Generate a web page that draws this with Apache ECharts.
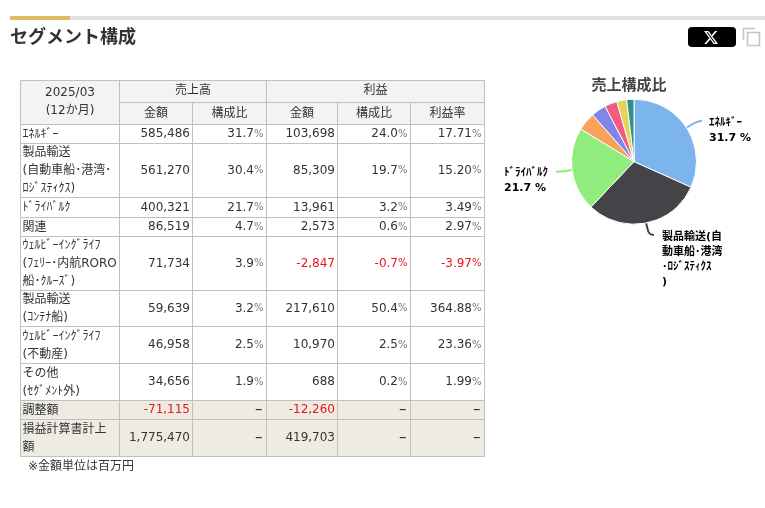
<!DOCTYPE html>
<html><head><meta charset="utf-8">
<style>html,body{margin:0;padding:0;background:#fff}#c{width:765px;height:508px}</style>
<script src="https://cdn.jsdelivr.net/npm/echarts@6/dist/echarts.min.js"></script>
</head><body><div id="c"></div>
<script>
const FONT = '"DejaVu Sans","Noto Sans CJK JP",sans-serif';
const categories = ['ｴﾈﾙｷﾞｰ','製品輸送\n(自動車船･港湾･\nﾛｼﾞｽﾃｨｸｽ)','ﾄﾞﾗｲﾊﾞﾙｸ','関連','ｳｪﾙﾋﾞｰｲﾝｸﾞﾗｲﾌ\n(ﾌｪﾘｰ･内航RORO\n船･ｸﾙｰｽﾞ)','製品輸送\n(ｺﾝﾃﾅ船)','ｳｪﾙﾋﾞｰｲﾝｸﾞﾗｲﾌ\n(不動産)','その他\n(ｾｸﾞﾒﾝﾄ外)','調整額','損益計算書計上\n額'];
const salesValues = [585486,561270,400321,86519,71734,59639,46958,34656,-71115,1775470];
const salesShare = [31.7,30.4,21.7,4.7,3.9,3.2,2.5,1.9,null,null];
const profitValues = [103698,85309,13961,2573,-2847,217610,10970,688,-12260,419703];
const profitShare = [24.0,19.7,3.2,0.6,-0.7,50.4,2.5,0.2,null,null];
const profitRate = [17.71,15.20,3.49,2.97,-3.97,364.88,23.36,1.99,null,null];
const pieNames = ['ｴﾈﾙｷﾞｰ','製品輸送(自動車船･港湾･ﾛｼﾞｽﾃｨｸｽ)','ﾄﾞﾗｲﾊﾞﾙｸ','関連','ｳｪﾙﾋﾞｰｲﾝｸﾞﾗｲﾌ(ﾌｪﾘｰ･内航RORO船･ｸﾙｰｽﾞ)','製品輸送(ｺﾝﾃﾅ船)','ｳｪﾙﾋﾞｰｲﾝｸﾞﾗｲﾌ(不動産)','その他(ｾｸﾞﾒﾝﾄ外)'];
const pieValues = salesValues.slice(0,8);
const pieColors = ['#7cb5ec','#434348','#90ed7d','#f7a35c','#8085e9','#f15c80','#e4d354','#2b908f'];
const pieLabels = {0:'ｴﾈﾙｷﾞｰ\n31.7 %',1:'製品輸送(自\n動車船･港湾\n･ﾛｼﾞｽﾃｨｸｽ\n)',2:'ﾄﾞﾗｲﾊﾞﾙｸ\n21.7 %'};
const labelSpots = {0:[709,116],1:[662,230],2:[504,166]};
const leaderBends = {0:[[695,122],[702,120.7]],1:[[649,235],[654,235]],2:[[565,171.7],[556,171.7]]};

const colX = [20.5,119.5,192.5,266.5,337.5,410.5,484.5];
const rowY = [124.5,143.5,197.5,217.5,236.5,290.5,326.5,363.5,400.5,419.5,456.5];
const TEXT='#333', LINE='#c0c0c0', RED='#e8141e';
const g = [];
const rect=(x,y,w,h,fill)=>g.push({type:'rect',silent:true,shape:{x,y,width:w,height:h},style:{fill}});
const line=(x1,y1,x2,y2)=>g.push({type:'line',silent:true,shape:{x1,y1,x2,y2},style:{stroke:LINE,lineWidth:1}});
const txt=(x,y,text,o={})=>g.push({type:'text',silent:true,x,y,style:Object.assign({text,fill:TEXT,font:'12px '+FONT,align:'center',verticalAlign:'middle'},o)});

// page heading
rect(10,16,755,4,'#e2e2e2'); rect(10,16,60,4,'#e0bc5c');
txt(10,38,'セグメント構成',{font:'bold 18px '+FONT,align:'left',fill:'#333'});
g.push({type:'rect',silent:true,shape:{x:688,y:27,width:48,height:20,r:4},style:{fill:'#000'}});
// X glyph
const xIcon=(pts,fill)=>g.push({type:'polygon',silent:true,shape:{points:pts.map(p=>[704+(p[0]-1.25)*14/21.5,31+(p[1]-2.25)*13/19.5])},style:{fill}});
xIcon([[1.254,2.25],[8.08,2.25],[22.827,21.75],[16.17,21.75]],'#fff');
xIcon([[5.117,4.126],[7.084,4.126],[18.916,19.77],[17.083,19.77]],'#000');
xIcon([[18.244,2.25],[21.552,2.25],[14.325,10.51],[12.793,8.481]],'#fff');
xIcon([[4.99,21.75],[1.68,21.75],[9.41,12.915],[10.956,14.933]],'#fff');
g.push({type:'rect',silent:true,shape:{x:747.5,y:32.5,width:12,height:13},style:{fill:'none',stroke:'#c4c4c4',lineWidth:1.6}});
g.push({type:'polyline',silent:true,shape:{points:[[743.5,40],[743.5,28.5],[755,28.5]]},style:{fill:'none',stroke:'#c4c4c4',lineWidth:1.6}});

// table backgrounds
rect(colX[0],80.5,colX[6]-colX[0],44,'#f3f3f3');
rect(colX[0],rowY[8],colX[6]-colX[0],rowY[10]-rowY[8],'#eeece2');

// table grid
line(colX[0],80.5,colX[6],80.5);
line(colX[1],102.5,colX[6],102.5);
rowY.forEach(y=>line(colX[0],y,colX[6],y));
colX.forEach((x,i)=>{const top=(i===2||i===4||i===5)?102.5:80.5; line(x,top,x,rowY[10]);});

// table header
txt((colX[0]+colX[1])/2,93,'2025/03');
txt((colX[0]+colX[1])/2,110.5,'(12か月)');
txt((colX[1]+colX[3])/2,91,'売上高');
txt((colX[3]+colX[6])/2,91,'利益');
['金額','構成比','金額','構成比','利益率'].forEach((t,i)=>txt((colX[i+1]+colX[i+2])/2,113.5,t));

// table body
const fmt=v=>v.toLocaleString('en-US');
const numCell=(c,y,v)=>txt(colX[c]-2.5,y,fmt(v),{align:'right',fill:v<0?RED:TEXT});
const pctCell=(c,y,v,d)=>{
  if(v===null){txt(colX[c]-4,y,'–',{align:'right',font:'15px '+FONT});return;}
  const col=v<0?RED:TEXT;
  txt(colX[c]-3,y,'{a|'+v.toFixed(d)+'}{b|%}',{align:'right',rich:{a:{font:'12px '+FONT,fill:col},b:{font:'10px '+FONT,fill:v<0?RED:'#777'}}});
};
categories.forEach((c,i)=>{
  const y=(rowY[i]+rowY[i+1])/2;
  txt(22.5,y+0.5,c,{align:'left',lineHeight:18});
  numCell(2,y,salesValues[i]); pctCell(3,y,salesShare[i],1);
  numCell(4,y,profitValues[i]); pctCell(5,y,profitShare[i],1); pctCell(6,y,profitRate[i],2);
});
txt(28,466.5,'※金額単位は百万円',{align:'left'});

const chart=echarts.init(document.getElementById('c'));
chart.setOption({
  animation:false,
  backgroundColor:'#fff',
  title:{text:'売上構成比',left:624,top:74,textAlign:'center',textStyle:{fontFamily:FONT,fontSize:15,fontWeight:'bold',color:'#444'}},
  graphic:{elements:g},
  series:[{
    type:'pie',center:[634,161.7],radius:[0,62.5],startAngle:90,clockwise:true,silent:true,
    color:pieColors,
    itemStyle:{borderColor:'#fff',borderWidth:1},
    data:pieNames.map((name,i)=>({name,value:pieValues[i],
      label:{show:i in pieLabels},labelLine:{show:i in pieLabels}})),
    label:{position:'outside',formatter:p=>pieLabels[p.dataIndex]||'',fontFamily:FONT,fontSize:11,fontWeight:'bold',color:'#000',lineHeight:15,align:'left'},
    labelLine:{length:10,length2:10,smooth:0.5,lineStyle:{width:2}},
    labelLayout:p=>{
      const s=labelSpots[p.dataIndex];
      if(!s) return {};
      const out={x:s[0],y:s[1],align:'left',verticalAlign:'top',hideOverlap:false};
      if(p.labelLinePoints) out.labelLinePoints=[p.labelLinePoints[0],...leaderBends[p.dataIndex]];
      return out;
    }
  }]
});
</script></body></html>
